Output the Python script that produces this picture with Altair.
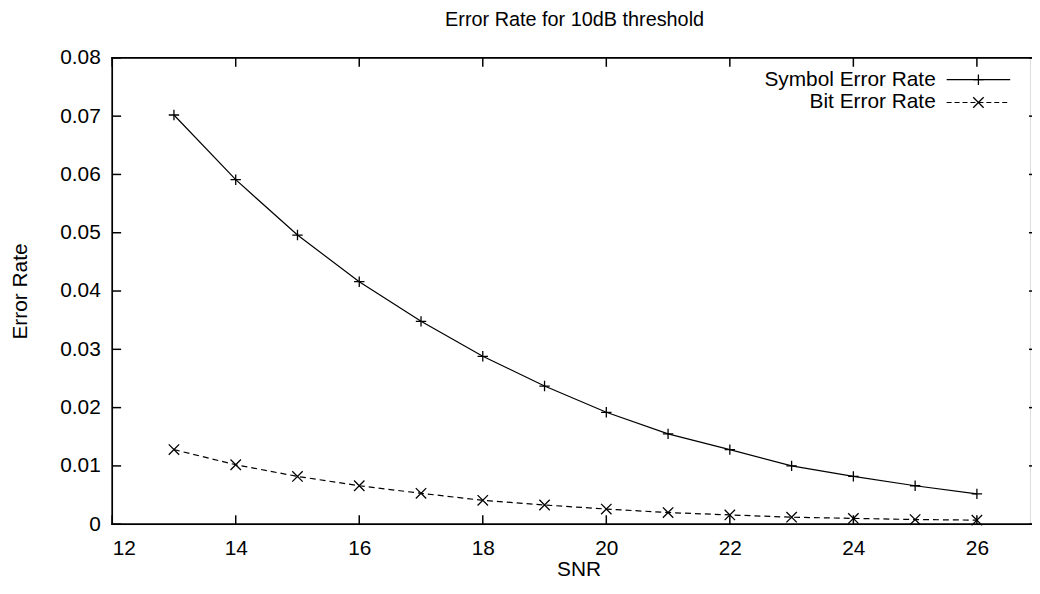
import altair as alt
import pandas as pd

# ---- data ----
snr = [13, 14, 15, 16, 17, 18, 19, 20, 21, 22, 23, 24, 25, 26]
ser = [0.0702, 0.0591, 0.0496, 0.0416, 0.0348, 0.0288, 0.0237, 0.0192,
       0.0155, 0.0128, 0.0100, 0.0082, 0.0066, 0.0052]
ber = [0.0128, 0.0102, 0.0082, 0.0066, 0.0053, 0.0041, 0.0033, 0.0026,
       0.0020, 0.0016, 0.0012, 0.0010, 0.0008, 0.0007]
series_names = ["Symbol Error Rate", "Bit Error Rate"]
x_tick_values = [12, 14, 16, 18, 20, 22, 24, 26]
y_tick_values = [0, 0.01, 0.02, 0.03, 0.04, 0.05, 0.06, 0.07, 0.08]
title_text = "Error Rate for 10dB threshold"
x_title = "SNR"
y_title = "Error Rate"

# ---- styling ----
W, H = 925, 470
FONT = "Liberation Sans"
FS = 21
PLUS = "M-1,0L1,0M0,-1L0,1"
CROSS = "M-1,-1L1,1M-1,1L1,-1"

df = pd.DataFrame({
    "snr": snr + snr,
    "rate": ser + ber,
    "series": [series_names[0]] * len(snr) + [series_names[1]] * len(snr),
})

xs = alt.Scale(domain=[12, 26.86], nice=False, zero=False)
ys = alt.Scale(domain=[0, 0.08], nice=False, zero=False)

x_enc = alt.X("snr:Q", scale=xs, axis=alt.Axis(
    values=x_tick_values, title=x_title, format="d", ticks=False, grid=False,
    domain=False, labelPadding=14, labelColor="black", labelFont=FONT,
    labelFontSize=FS, titleFont=FONT, titleFontSize=FS, titleFontWeight="normal",
    titleColor="black", titleX=470, titleY=46, titleBaseline="middle",
    titleAlign="center"))
y_enc = alt.Y("rate:Q", scale=ys, axis=alt.Axis(
    values=y_tick_values, title=y_title, ticks=False, grid=False, domain=False,
    labelExpr="datum.value == 0 ? '0' : format(datum.value, '.2f')",
    labelPadding=12, labelColor="black", labelFont=FONT, labelFontSize=FS,
    titleFont=FONT, titleFontSize=FS, titleFontWeight="normal",
    titleColor="black", titleX=-92, titleY=235, titleBaseline="middle",
    titleAlign="center"))

base = alt.Chart(df)
sym = base.transform_filter(alt.datum.series == series_names[0])
bit = base.transform_filter(alt.datum.series == series_names[1])

sym_line = sym.mark_line(color="black", strokeWidth=1.2).encode(x=x_enc, y=y_enc)
bit_line = bit.mark_line(color="black", strokeWidth=1.2, strokeDash=[6, 4]).encode(x=x_enc, y=y_enc)
sym_pts = sym.mark_point(shape=PLUS, size=110, filled=False, color="black",
                         strokeWidth=1.3, opacity=1).encode(x=x_enc, y=y_enc)
bit_pts = bit.mark_point(shape=CROSS, size=110, filled=False, color="black",
                         strokeWidth=1.3, opacity=1).encode(x=x_enc, y=y_enc)

# inward ticks
xt = alt.Chart(pd.DataFrame({"snr": x_tick_values}))
yt = alt.Chart(pd.DataFrame({"rate": y_tick_values}))
tick_style = dict(color="black", strokeWidth=1.5)
xt_bot = xt.mark_rule(**tick_style).encode(x=x_enc, y=alt.value(H), y2=alt.value(H - 9))
xt_top = xt.mark_rule(**tick_style).encode(x=x_enc, y=alt.value(0), y2=alt.value(9))
yt_left = yt.mark_rule(**tick_style).encode(y=y_enc, x=alt.value(0), x2=alt.value(9))
yt_right = yt.mark_rule(**tick_style).encode(y=y_enc, x=alt.value(W - 1), x2=alt.value(W + 2))

one = alt.Data(values=[{"k": 0}])
border_style = dict(color="black", strokeWidth=1.7, strokeCap="square")
b_top = alt.Chart(one).mark_rule(**border_style).encode(x=alt.value(0), x2=alt.value(W + 2), y=alt.value(0))
b_bot = alt.Chart(one).mark_rule(**border_style).encode(x=alt.value(0), x2=alt.value(W + 2), y=alt.value(H))
b_left = alt.Chart(one).mark_rule(**border_style).encode(x=alt.value(0), y=alt.value(0), y2=alt.value(H))

# chart title as a text mark above the plot
title_mark = alt.Chart(alt.Data(values=[{"t": title_text}])).mark_text(
    align="center", baseline="middle", font=FONT, fontSize=20, color="black"
).encode(text="t:N", x=alt.value(466), y=alt.value(-38))

# gnuplot-style key (label left, sample right)
def key_row(i, ypos, dash, shape):
    d = alt.Chart(alt.Data(values=[{"label": series_names[i]}]))
    txt = d.mark_text(align="right", baseline="middle", font=FONT, fontSize=FS,
                      color="black").encode(text="label:N", x=alt.value(830), y=alt.value(ypos))
    rule_kw = dict(color="black", strokeWidth=1.2)
    if dash:
        rule_kw["strokeDash"] = dash
    ln = d.mark_rule(**rule_kw).encode(x=alt.value(841), x2=alt.value(905), y=alt.value(ypos))
    pt = d.mark_point(shape=shape, size=110, filled=False, color="black",
                      strokeWidth=1.3, opacity=1).encode(x=alt.value(873), y=alt.value(ypos))
    return [txt, ln, pt]

legend_layers = key_row(0, 22, None, PLUS) + key_row(1, 45, [5, 3], CROSS)

chart = alt.layer(
    sym_line, bit_line, sym_pts, bit_pts,
    xt_bot, xt_top, yt_left, yt_right,
    b_top, b_bot, b_left,
    title_mark,
    *legend_layers,
).properties(
    width=W, height=H,
    padding={"left": 105, "top": 48, "right": 2, "bottom": 56},
    autosize=alt.AutoSizeParams(type="none"),
).configure_view(stroke=None).configure(background="white")

chart.save("out.html", embed_options={"renderer": "svg", "actions": False})
